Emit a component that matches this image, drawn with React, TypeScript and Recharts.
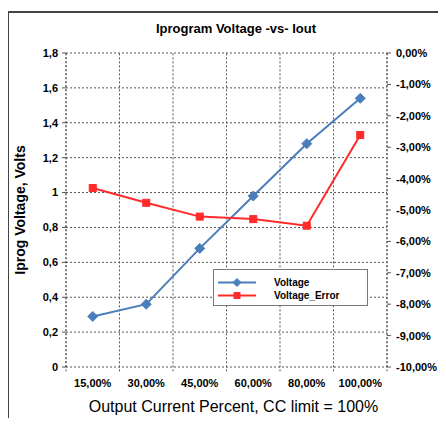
import React from 'react';
import { ComposedChart, Line, XAxis, YAxis, CartesianGrid, Legend, Label, ReferenceLine } from 'recharts';

const categories = ['15,00%', '30,00%', '45,00%', '60,00%', '80,00%', '100,00%'];
const voltage = [0.29, 0.36, 0.68, 0.98, 1.28, 1.54];
const voltageError = [-4.3, -4.77, -5.21, -5.29, -5.5, -2.61];
const leftTicks = [0, 0.2, 0.4, 0.6, 0.8, 1, 1.2, 1.4, 1.6, 1.8];
const rightTicks = [-10, -9, -8, -7, -6, -5, -4, -3, -2, -1, 0];
const bandEdges = [0, 1, 2, 3, 4, 5, 6];
const bandCenters = [0.5, 1.5, 2.5, 3.5, 4.5, 5.5];

const BLUE = '#4A7EBB';
const RED = '#FF2A2A';
const GRID = '#555';
const FONT = '"Liberation Sans", Arial, sans-serif';

const data = categories.map((name, i) => ({
  x: i + 0.5,
  name,
  voltage: voltage[i],
  error: voltageError[i],
}));

const tickStyle = { fontSize: 11, fontWeight: 700, fill: '#000', fontFamily: FONT };

const Diamond = (props: any) => {
  const { cx, cy, color = BLUE, r = 5 } = props;
  if (cx == null || cy == null) return null;
  return (
    <polygon
      points={`${cx},${cy - r} ${cx + r},${cy} ${cx},${cy + r} ${cx - r},${cy}`}
      fill={color}
      stroke={color}
    />
  );
};

const Square = (props: any) => {
  const { cx, cy, color = RED, r = 3.5 } = props;
  if (cx == null || cy == null) return null;
  return <rect x={cx - r} y={cy - r} width={r * 2} height={r * 2} fill={color} stroke={color} />;
};

const legendItems = [
  { label: 'Voltage', color: BLUE, shape: 'diamond' },
  { label: 'Voltage_Error', color: RED, shape: 'square' },
];

const LegendBox = () => (
  <div
    style={{
      border: '1px solid #777',
      background: '#fff',
      padding: '6px 0 5px 3px',
      boxSizing: 'border-box',
      height: 37,
    }}
  >
    {legendItems.map((item) => (
      <div key={item.label} style={{ display: 'flex', alignItems: 'center', height: 13 }}>
        <svg width={40} height={13}>
          <line x1={1} y1={6.5} x2={39} y2={6.5} stroke={item.color} strokeWidth={2} />
          {item.shape === 'diamond' ? (
            <Diamond cx={20} cy={6.5} r={4} color={item.color} />
          ) : (
            <Square cx={20} cy={6.5} r={3} color={item.color} />
          )}
        </svg>
        <span
          style={{
            marginLeft: 17,
            fontFamily: FONT,
            fontSize: 10,
            fontWeight: 700,
            color: '#000',
          }}
        >
          {item.label}
        </span>
      </div>
    ))}
  </div>
);

export default function App() {
  return (
    <div
      style={{
        position: 'relative',
        width: 446,
        height: 426,
        margin: -8,
        overflow: 'hidden',
        background: '#fff',
        fontFamily: FONT,
      }}
    >
      <div
        style={{
          position: 'absolute',
          left: 7,
          top: 11,
          width: 460,
          height: 430,
          border: '2px solid #444',
          boxSizing: 'border-box',
        }}
      />
      <div
        style={{
          position: 'absolute',
          left: 0,
          width: 472,
          top: 21,
          textAlign: 'center',
          fontSize: 13,
          fontWeight: 700,
          color: '#000',
        }}
      >
        Iprogram Voltage -vs- Iout
      </div>
      <div style={{ position: 'absolute', left: 0, top: 0 }}>
        <ComposedChart
          width={446}
          height={426}
          data={data}
          margin={{ top: 53, right: 4, bottom: 14, left: 8 }}
        >
          <CartesianGrid
            xAxisId="cat"
            yAxisId="left"
            vertical={false}
            stroke={GRID}
            strokeDasharray="2 2"
          />
          {/* vertical grid on the band edges, running a little below the axis as tick marks */}
          {bandEdges.map((v) => (
            <ReferenceLine
              key={`edge-${v}`}
              xAxisId="cat"
              yAxisId="left"
              segment={[
                { x: v, y: -0.025 },
                { x: v, y: 1.8 },
              ]}
              stroke={GRID}
              strokeDasharray="2 2"
              ifOverflow="visible"
            />
          ))}
          <XAxis
            xAxisId="cat"
            type="number"
            dataKey="x"
            domain={[0, 6]}
            ticks={bandCenters}
            height={45}
            axisLine={false}
            tickLine={false}
            tickSize={0}
            tickMargin={12}
            interval={0}
            tick={tickStyle}
            tickFormatter={(v: number) => categories[Math.floor(v)]}
          >
            <Label
              value="Output Current Percent, CC limit = 100%"
              position="insideBottom"
              offset={0}
              dx={7}
              style={{ fontSize: 16, fill: '#000', fontFamily: FONT }}
            />
          </XAxis>
          <YAxis
            yAxisId="left"
            domain={[0, 1.8]}
            ticks={leftTicks}
            width={58}
            interval={0}
            tickSize={4}
            tickMargin={4}
            tick={tickStyle}
            axisLine={{ stroke: GRID, strokeDasharray: '2 2' }}
            tickLine={{ stroke: GRID }}
            tickFormatter={(v: number) => String(+v.toFixed(1)).replace('.', ',')}
          >
            <Label
              value="Iprog Voltage, Volts"
              angle={-90}
              position="insideLeft"
              offset={12}
              style={{ textAnchor: 'middle', fontSize: 14, fontWeight: 700, fill: '#000', fontFamily: FONT }}
            />
          </YAxis>
          <YAxis
            yAxisId="right"
            orientation="right"
            domain={[-10, 0]}
            ticks={rightTicks}
            width={55}
            interval={0}
            tickSize={4}
            tickMargin={5}
            tick={{ ...tickStyle, textAnchor: 'start' }}
            axisLine={{ stroke: GRID, strokeDasharray: '2 2' }}
            tickLine={{ stroke: GRID }}
            tickFormatter={(v: number) => `${v.toFixed(2).replace('.', ',')}%`}
          />
          <Line
            xAxisId="cat"
            yAxisId="left"
            dataKey="voltage"
            name="Voltage"
            stroke={BLUE}
            strokeWidth={2}
            dot={(p: any) => <Diamond key={`v-${p.index}`} cx={p.cx} cy={p.cy} />}
            activeDot={false}
            isAnimationActive={false}
          />
          <Line
            xAxisId="cat"
            yAxisId="right"
            dataKey="error"
            name="Voltage_Error"
            stroke={RED}
            strokeWidth={2}
            dot={(p: any) => <Square key={`e-${p.index}`} cx={p.cx} cy={p.cy} />}
            activeDot={false}
            isAnimationActive={false}
          />
          <Legend
            layout="vertical"
            align="center"
            verticalAlign="middle"
            content={() => <LegendBox />}
            wrapperStyle={{ left: 213, top: 269, width: 155, height: 37, margin: 0 }}
          />
        </ComposedChart>
      </div>
    </div>
  );
}
